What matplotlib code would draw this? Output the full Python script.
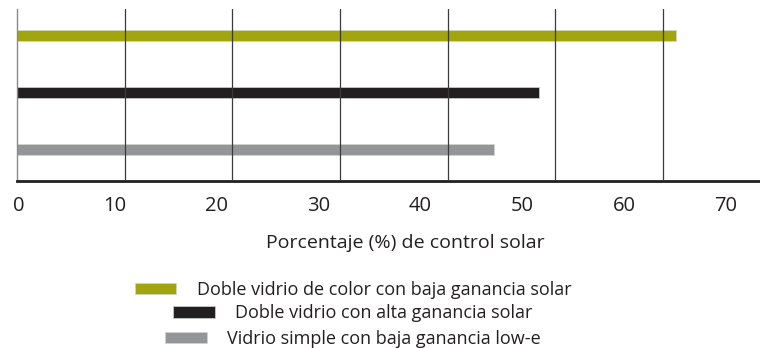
import matplotlib
matplotlib.use("Agg")
import matplotlib.pyplot as plt

plt.rcParams['font.family'] = ['Open Sans', 'DejaVu Sans']

# glazing types, bottom to top
labels = [
    'Vidrio simple con baja ganancia low-e',
    'Doble vidrio con alta ganancia solar',
    'Doble vidrio de color con baja ganancia solar',
]
values = [44.3, 48.5, 61.2]
colors = ['#939598', '#231f20', '#a3a50f']

tick_values = [0, 10, 20, 30, 40, 50, 60, 70]
grid_values = [10, 20, 30, 40, 50, 60]
x_title = 'Porcentaje (%) de control solar'

# the printed tick scale is slightly tighter than the gridline scale
SCALE = 1.0569
SHIFT = 0.432


def to_label(x):
    return x * SCALE + SHIFT


def to_main(x):
    return (x - SHIFT) / SCALE


fig = plt.figure(figsize=(7.6, 3.48), dpi=100)
ax = fig.add_axes([0.0082, 0.4799, 0.9918, 0.4942])

ypos = list(range(len(values)))
bars = []
for y, v, c, lab in zip(ypos, values, colors, labels):
    b = ax.barh(y, v, height=0.185, color=c, edgecolor='#d4d4d4',
                linewidth=0.5, label=lab, zorder=1)
    bars.append(b)

ax.set_xlim(-1, 69.0)
ax.set_ylim(-0.55, 2.46)
ax.set_yticks([])
ax.set_xticks(grid_values)
ax.tick_params(axis='x', length=0, labelbottom=False)
ax.grid(axis='x', color='#3a3a3a', linewidth=0.9, zorder=2)
ax.set_axisbelow(False)

for s in ['top', 'right']:
    ax.spines[s].set_visible(False)
ax.spines['left'].set_position(('data', 0))
ax.spines['left'].set_color('#8a8a8a')
ax.spines['left'].set_linewidth(1.0)
ax.spines['bottom'].set_bounds(0, 69.0)
ax.spines['bottom'].set_color('#231f20')
ax.spines['bottom'].set_linewidth(2.0)

sec = ax.secondary_xaxis('bottom', functions=(to_label, to_main))
sec.set_xticks(tick_values)
sec.spines['bottom'].set_visible(False)
sec.tick_params(length=0, pad=10.5, labelsize=14.5, labelcolor='#231f20')
# the zero sits flush against the axis line
sec.xaxis.get_majorticklabels()[0].set_horizontalalignment('left')

fig.text(405 / 760, 1 - 243 / 348, x_title, ha='center', va='center',
         fontsize=14, color='#231f20')

# one centred legend row per series, top row is the top bar
legend_rows = [0.026, 0.1, 0.167]
for b, lab, yr in zip(bars, labels, legend_rows):
    fig.legend([b], [lab], loc='center', bbox_to_anchor=(353 / 760, yr),
               frameon=False, fontsize=13, handlelength=2.3,
               handleheight=0.6, handletextpad=1.15, borderpad=0,
               labelcolor='#231f20')

fig.savefig('out.png', dpi=100)
